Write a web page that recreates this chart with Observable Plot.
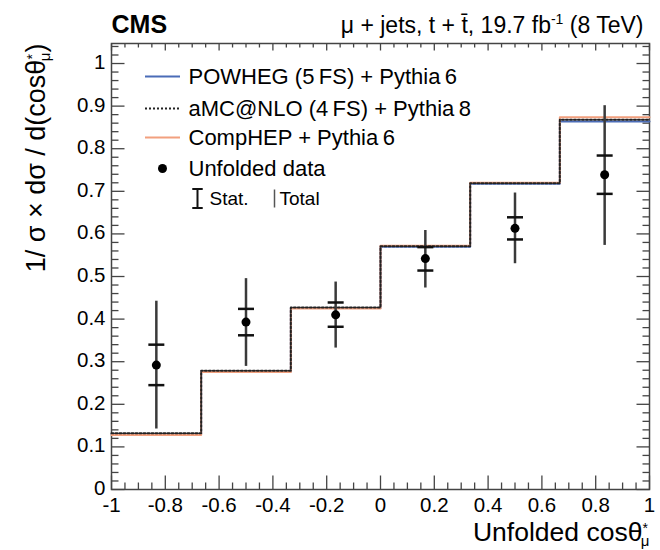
<!DOCTYPE html>
<html><head><meta charset="utf-8">
<script src="https://cdn.jsdelivr.net/npm/d3@7"></script>
<script src="https://cdn.jsdelivr.net/npm/@observablehq/plot@0.6"></script>
<style>body{margin:0;background:#fff} #chart{width:660px;height:550px}</style>
</head><body><div id="chart"></div>
<script>
// ---- data ----
const binEdges = [-1, -2/3, -1/3, 0, 1/3, 2/3, 1];
const powheg  = [0.130, 0.277, 0.426, 0.570, 0.718, 0.864];
const amcnlo  = [0.132, 0.279, 0.427, 0.571, 0.719, 0.868];
const comphep = [0.128, 0.276, 0.425, 0.572, 0.720, 0.874];
const dataX  = [-0.8333, -0.5, -0.1667, 0.1667, 0.5, 0.8333];
const dataY  = [0.292, 0.393, 0.410, 0.542, 0.613, 0.739];
const statLo = [0.245, 0.362, 0.382, 0.514, 0.587, 0.694];
const statHi = [0.340, 0.424, 0.439, 0.569, 0.639, 0.784];
const totLo  = [0.142, 0.289, 0.332, 0.473, 0.530, 0.573];
const totHi  = [0.442, 0.495, 0.487, 0.608, 0.696, 0.901];
const xTicks = [-1, -0.8, -0.6, -0.4, -0.2, 0, 0.2, 0.4, 0.6, 0.8, 1];
const xTickLabels = ["-1", "-0.8", "-0.6", "-0.4", "-0.2", "0", "0.2", "0.4", "0.6", "0.8", "1"];
const yTicks = [0, 0.1, 0.2, 0.3, 0.4, 0.5, 0.6, 0.7, 0.8, 0.9, 1];
const yTickLabels = ["0", "0.1", "0.2", "0.3", "0.4", "0.5", "0.6", "0.7", "0.8", "0.9", "1"];
const xMinor = d3.range(0, 41).map(i => -1 + i * 0.05);
const yMinor = d3.range(0, 53).map(i => i * 0.02);
const legendLabels = ["POWHEG (5\u2009FS) + Pythia\u20096", "aMC@NLO (4\u2009FS) + Pythia\u20098", "CompHEP + Pythia\u20096", "Unfolded data"];

const BLUE = "#4b6cb7", ORANGE = "#f2a07e", AX = "#444";
const legendColors = [BLUE, "#222", ORANGE];
const legendDash = [null, "2,2", null];

// build tables from the arrays
const stepRows = (vals) => binEdges.map((e, i) => ({x: e, v: vals[Math.min(i, vals.length - 1)]}));
const points = dataX.map((x, i) => ({x, y: dataY[i], sl: statLo[i], sh: statHi[i], tl: totLo[i], th: totHi[i]}));

// custom symbols
const sym = (f) => ({draw(ctx, size) { f(ctx, Math.sqrt(size / Math.PI)); }});
const tickUp    = sym((c, l) => { c.moveTo(0, 0); c.lineTo(0, -l); });
const tickDown  = sym((c, l) => { c.moveTo(0, 0); c.lineTo(0, l); });
const tickRight = sym((c, l) => { c.moveTo(0, 0); c.lineTo(l, 0); });
const tickLeft  = sym((c, l) => { c.moveTo(0, 0); c.lineTo(-l, 0); });
const hbar = sym((c, l) => { c.moveTo(-l, 0); c.lineTo(l, 0); });
const ibar = sym((c, l) => { c.moveTo(0, -l); c.lineTo(0, l); c.moveTo(-l * 0.55, -l); c.lineTo(l * 0.55, -l); c.moveTo(-l * 0.55, l); c.lineTo(l * 0.55, l); });
const vbar = sym((c, l) => { c.moveTo(0, -l); c.lineTo(0, l); });

const isMajorX = d => xTicks.some(t => Math.abs(t - d) < 1e-6);
const isMajorY = d => yTicks.some(t => Math.abs(t - d) < 1e-6);
const xMin = xMinor.filter(d => !isMajorX(d));
const yMin = yMinor.filter(d => !isMajorY(d));

const tickMarks = (vals, ch, anchor, symbol, r) =>
  Plot.dot(vals, {[ch]: d => d, frameAnchor: anchor, symbol, r, stroke: AX, strokeWidth: 1.3, fill: "none"});

const rowY = [33, 65, 94, 125];
const legendMarks = legendLabels.slice(0, 3).map((lab, i) =>
  Plot.dot([lab], {frameAnchor: "top-left", dx: 51, dy: rowY[i], symbol: hbar, r: 17.5, stroke: legendColors[i], strokeWidth: 2, strokeDasharray: legendDash[i], fill: "none"}));
const legendTexts = legendLabels.map((lab, i) =>
  Plot.text([lab], {frameAnchor: "top-left", dx: 77, dy: rowY[i], textAnchor: "start", lineAnchor: "middle", fontSize: 22}));

const plot = Plot.plot({
  width: 660, height: 550,
  marginLeft: 111, marginRight: 11, marginTop: 43, marginBottom: 61,
  style: {fontFamily: "'Liberation Sans', Arial, sans-serif", background: "#fff", color: "#000", overflow: "visible"},
  x: {domain: [-1, 1], axis: null},
  y: {domain: [0, 1.047], axis: null},
  marks: [
    // ticks (inside, ROOT style)
    tickMarks(xTicks, "x", "bottom", tickUp, 14),
    tickMarks(xMin, "x", "bottom", tickUp, 7),
    tickMarks(xTicks, "x", "top", tickDown, 7),
    tickMarks(xMin, "x", "top", tickDown, 4),
    tickMarks(yTicks, "y", "left", tickRight, 13),
    tickMarks(yMin, "y", "left", tickRight, 7),
    tickMarks(yTicks, "y", "right", tickLeft, 13),
    tickMarks(yMin, "y", "right", tickLeft, 7),
    Plot.frame({stroke: AX, strokeWidth: 1.5}),
    // tick labels
    Plot.text(xTicks, {x: d => d, text: (d, i) => xTickLabels[i], frameAnchor: "bottom", lineAnchor: "top", dy: 8, fontSize: 20.5}),
    Plot.text(yTicks, {y: d => d, text: (d, i) => yTickLabels[i], frameAnchor: "left", textAnchor: "end", dx: -6, dy: -1, fontSize: 20.5}),
    // theory step lines
    Plot.line(stepRows(powheg), {x: "x", y: "v", curve: "step-after", stroke: BLUE, strokeWidth: 2}),
    Plot.line(stepRows(comphep), {x: "x", y: "v", curve: "step-after", stroke: ORANGE, strokeWidth: 2}),
    Plot.line(stepRows(amcnlo), {x: "x", y: "v", curve: "step-after", stroke: "#222", strokeWidth: 2, strokeDasharray: "2,2"}),
    // data: total error, stat caps, points
    Plot.ruleX(points, {x: "x", y1: "tl", y2: "th", stroke: "#3a3a3a", strokeWidth: 2.5}),
    Plot.dot(points, {x: "x", y: "sl", symbol: hbar, r: 8, stroke: "#111", strokeWidth: 2.5, fill: "none"}),
    Plot.dot(points, {x: "x", y: "sh", symbol: hbar, r: 8, stroke: "#111", strokeWidth: 2.5, fill: "none"}),
    Plot.dot(points, {x: "x", y: "y", r: 4.5, fill: "#000", stroke: "none"}),
    // legend
    ...legendMarks,
    Plot.dot(["Unfolded data"], {frameAnchor: "top-left", dx: 51, dy: rowY[3], r: 4.5, fill: "#000", stroke: "none"}),
    ...legendTexts,
    Plot.dot(["Stat."], {frameAnchor: "top-left", dx: 86, dy: 155, symbol: ibar, r: 9.5, stroke: "#111", strokeWidth: 2, fill: "none"}),
    Plot.text(["Stat."], {frameAnchor: "top-left", dx: 98, dy: 155, textAnchor: "start", lineAnchor: "middle", fontSize: 19}),
    Plot.dot(["Total"], {frameAnchor: "top-left", dx: 163, dy: 155, symbol: vbar, r: 9, stroke: "#555", strokeWidth: 1.5, fill: "none"}),
    Plot.text(["Total"], {frameAnchor: "top-left", dx: 168, dy: 155, textAnchor: "start", lineAnchor: "middle", fontSize: 19}),
    // titles
    Plot.text(["CMS"], {frameAnchor: "top-left", textAnchor: "start", lineAnchor: "bottom", dy: -11, fontSize: 25, fontWeight: "bold"}),
    Plot.text(["μ + jets, t + t\u0304, 19.7 fb-1 (8 TeV)"], {frameAnchor: "top-right", textAnchor: "end", lineAnchor: "bottom", dx: -6, dy: -11, fontSize: 23}),
    Plot.text(["Unfolded cosθ*μ"], {frameAnchor: "bottom-right", textAnchor: "end", lineAnchor: "bottom", dy: 51, dx: 0, fontSize: 26.5}),
    Plot.text(["1/ σ × dσ / d(cosθ*μ)"], {frameAnchor: "top-left", textAnchor: "end", lineAnchor: "middle", rotate: -90, dx: -75, dy: 0, fontSize: 27})
  ]
});
document.getElementById("chart").appendChild(plot);

// rich-text formatting (super/subscripts) on the rendered texts
d3.select(plot).selectAll("text").each(function() {
  const t = d3.select(this);
  const s = t.text();
  if (s === "μ + jets, t + t\u0304, 19.7 fb-1 (8 TeV)") {
    t.text("");
    t.append("tspan").text("μ + jets, t + t\u0304, 19.7 fb");
    t.append("tspan").attr("dy", -9).attr("font-size", 14).text("-1");
    t.append("tspan").attr("dy", 9).text(" (8 TeV)");
  } else if (s === "Unfolded cosθ*μ" || s === "1/ σ × dσ / d(cosθ*μ)") {
    const pre = s.slice(0, s.indexOf("θ") + 1);
    const closing = s.endsWith(")");
    t.text("");
    t.append("tspan").text(pre);
    t.append("tspan").attr("dy", -8).attr("font-size", 14).text("*");
    t.append("tspan").attr("dx", -7).attr("dy", 13).attr("font-size", 15).text("μ");
    if (closing) t.append("tspan").attr("dy", -5).text(")");
  }
});
</script>
</body></html>
